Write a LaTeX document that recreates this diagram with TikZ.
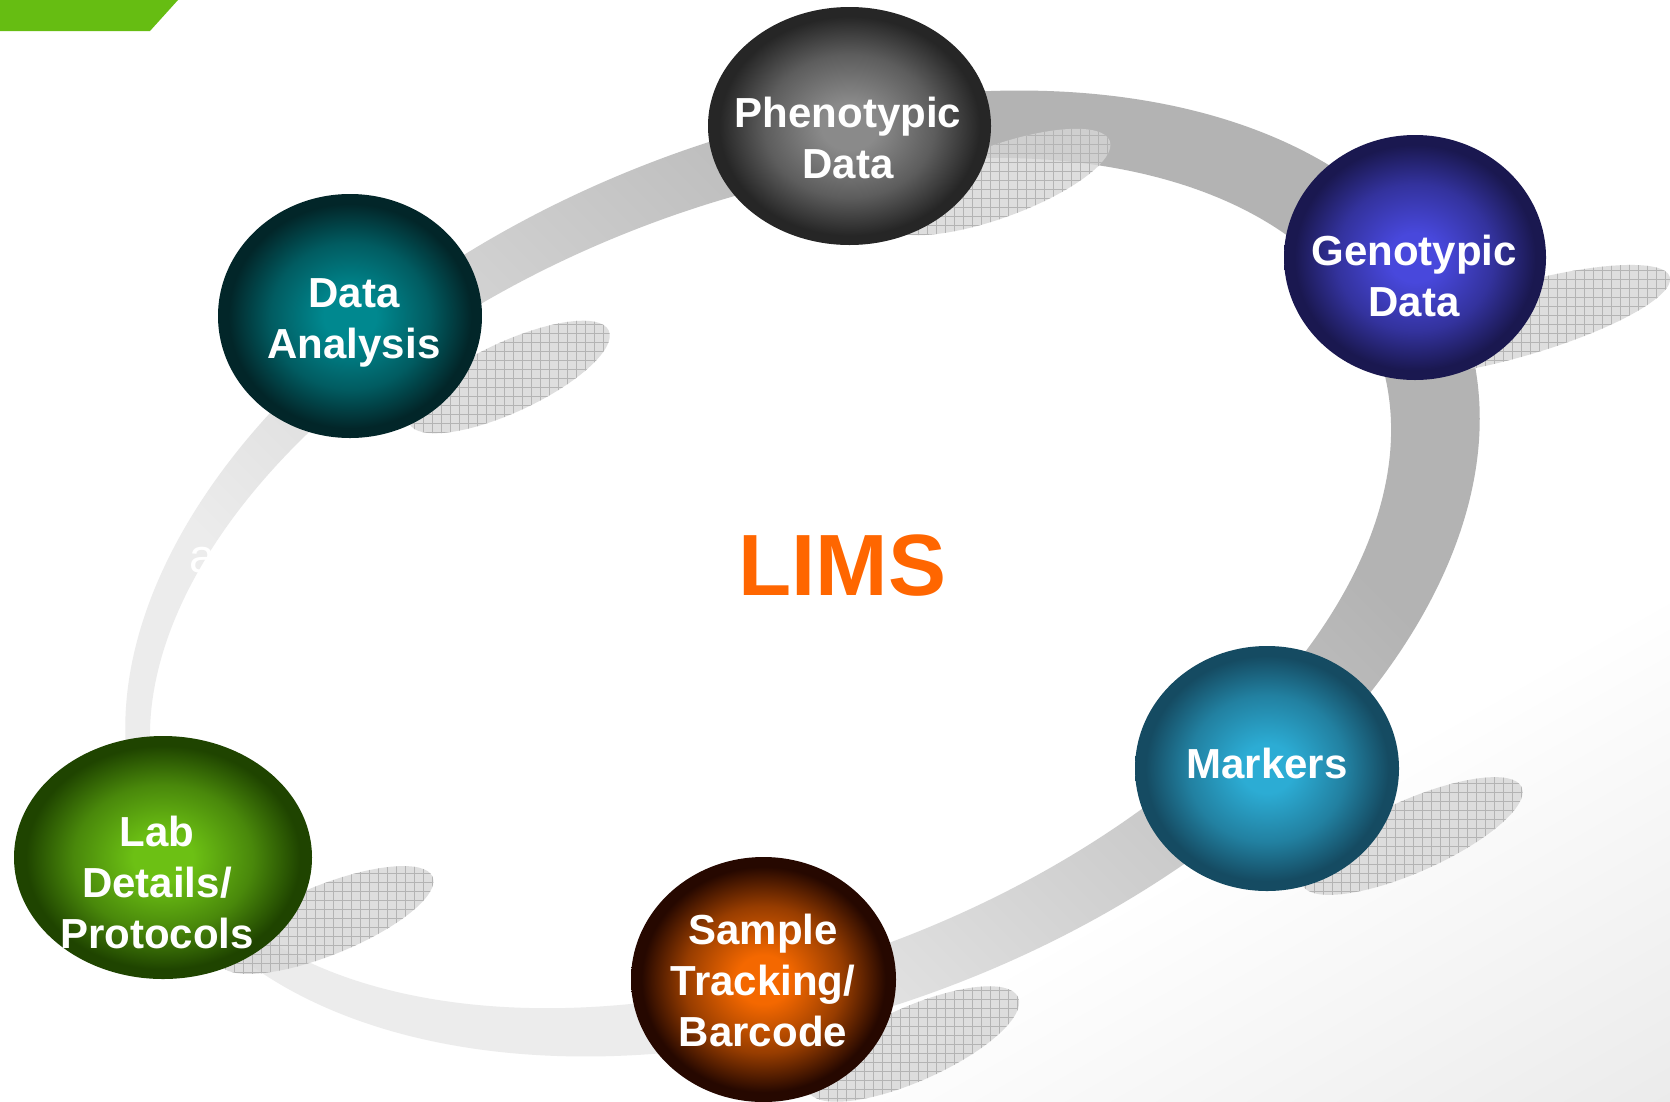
\documentclass[tikz,border=0pt]{standalone}
\usepackage{fontspec}
\setmainfont{Liberation Sans}
\usetikzlibrary{shapes.geometric}

\definecolor{limsorange}{HTML}{FF6600}
\definecolor{barGreen}{HTML}{66BD12}
\definecolor{ringdark}{HTML}{B3B3B3}
\definecolor{ringlight}{HTML}{ECECEC}
\definecolor{shadowfill}{HTML}{D6D6D6}
\definecolor{shadowgrid}{HTML}{B4B4B4}
\definecolor{bggray}{HTML}{E6E6E6}

\definecolor{phIn}{HTML}{8A8A8A}\definecolor{phOut}{HTML}{262626}
\definecolor{geIn}{HTML}{4848DC}\definecolor{geOut}{HTML}{1A1850}
\definecolor{daIn}{HTML}{00888F}\definecolor{daOut}{HTML}{022629}
\definecolor{laIn}{HTML}{6CC014}\definecolor{laOut}{HTML}{1F4400}
\definecolor{saIn}{HTML}{F46800}\definecolor{saOut}{HTML}{260800}
\definecolor{maIn}{HTML}{2CACD4}\definecolor{maOut}{HTML}{154B62}

\newcommand\mkballshade[3]{%
  \colorlet{#1Mid}{#2!55!#3}%
  \pgfdeclareradialshading{#1}{\pgfpoint{0bp}{0bp}}{color(0bp)=(#2); color(5bp)=(#2); color(15bp)=(#1Mid); color(23bp)=(#3); color(50bp)=(#3)}%
}
\mkballshade{phShade}{phIn}{phOut}
\mkballshade{geShade}{geIn}{geOut}
\mkballshade{daShade}{daIn}{daOut}
\mkballshade{laShade}{laIn}{laOut}
\mkballshade{saShade}{saIn}{saOut}
\mkballshade{maShade}{maIn}{maOut}

\pgfdeclareverticalshading{ringShade}{100bp}{color(0bp)=(ringlight); color(40bp)=(ringlight); color(60bp)=(ringdark); color(100bp)=(ringdark)}
\pgfdeclareverticalshading{bgShade}{100bp}{color(0bp)=(bggray); color(36bp)=(bggray); color(50bp)=(white); color(100bp)=(white)}

\newcommand\ballshadow[5]{%
  \begin{scope}
    \clip[rotate around={#3:(#1,#2)}] (#1,#2) ellipse (#4 and #5);
    \fill[shadowfill, opacity=0.8] ({#1-200},{#2-200}) rectangle ({#1+200},{#2+200});
    \draw[shadowgrid, line width=0.7pt, step=9pt] ({#1-200},{#2+200}) grid ({#1+200},{#2-200});
  \end{scope}}

\begin{document}
\begin{tikzpicture}[x=1pt, y=-1pt,
  ball/.style={ellipse, shade, draw=none, inner sep=0pt, outer sep=0pt},
  balltext/.style={text=white, font=\fontsize{42}{51}\selectfont\bfseries, align=center, inner sep=0pt, anchor=north}]
\useasboundingbox (0,0) rectangle (1670,1101);
\fill[white] (0,0) rectangle (1670,1101);
% faint photo texture, lower right
\begin{scope}
  \clip (0,0) rectangle (1670,1101);
  \shade[shading=bgShade, shading angle=29.6] (265,-180) rectangle (2265,1820);
\end{scope}
% green corner bar
\fill[barGreen] (0,0) -- (178,0) -- (150,31) -- (0,31) -- cycle;
% ring
\begin{scope}[even odd rule]
  \clip[rotate around={21.5:(802.5,573.5)}]
    (802.5,573.5) ellipse (707 and 438)
    (769.25,570.61) ellipse (650 and 378.5);
  \shade[shading=ringShade, shading angle=-45] (-197.5,-426.5) rectangle (1802.5,1573.5);
\end{scope}
% shadows
\ballshadow{997}{182}{20}{120}{36}
\ballshadow{1516}{321}{16}{160}{36}
\ballshadow{509}{377}{25}{110}{35}
\ballshadow{326}{920}{22}{115}{35}
\ballshadow{913}{1044}{24}{115}{37}
\ballshadow{1412}{836}{24}{120}{36}
% balls
\node[ball, shading=phShade, minimum width=283pt, minimum height=238pt] (pheno) at (849.5,126) {};
\node[ball, shading=geShade, minimum width=262pt, minimum height=245pt] (geno) at (1415,257.5) {};
\node[ball, shading=daShade, minimum width=264pt, minimum height=244pt] (dana) at (350,316) {};
\node[ball, shading=laShade, minimum width=298pt, minimum height=243pt] (lab) at (163,857.5) {};
\node[ball, shading=saShade, minimum width=265pt, minimum height=245pt] (samp) at (763.5,979.5) {};
\node[ball, shading=maShade, minimum width=264pt, minimum height=245pt] (mark) at (1267,768.5) {};
% texts
\node[balltext] (phenoT) at (848,97) {Phenotypic\\Data};
\node[balltext] (genoT) at (1414,235) {Genotypic\\Data};
\node[balltext] (danaT) at (354,278) {Data\\Analysis};
\node[balltext] (labT) at (157,816) {Lab\\Details/\\Protocols};
\node[balltext] (sampT) at (763,914) {Sample\\Tracking/\\Barcode};
\node[balltext] (markT) at (1267,748) {Markers};
\node[text=limsorange, font=\fontsize{87}{100}\selectfont\bfseries, inner sep=0pt, anchor=base] (lims) at (842.5,595) {LIMS};
\node[text=white, font=\fontsize{47}{56}\selectfont, inner sep=0pt, anchor=base west] (ahint) at (189,572) {a};
\end{tikzpicture}
\end{document}
